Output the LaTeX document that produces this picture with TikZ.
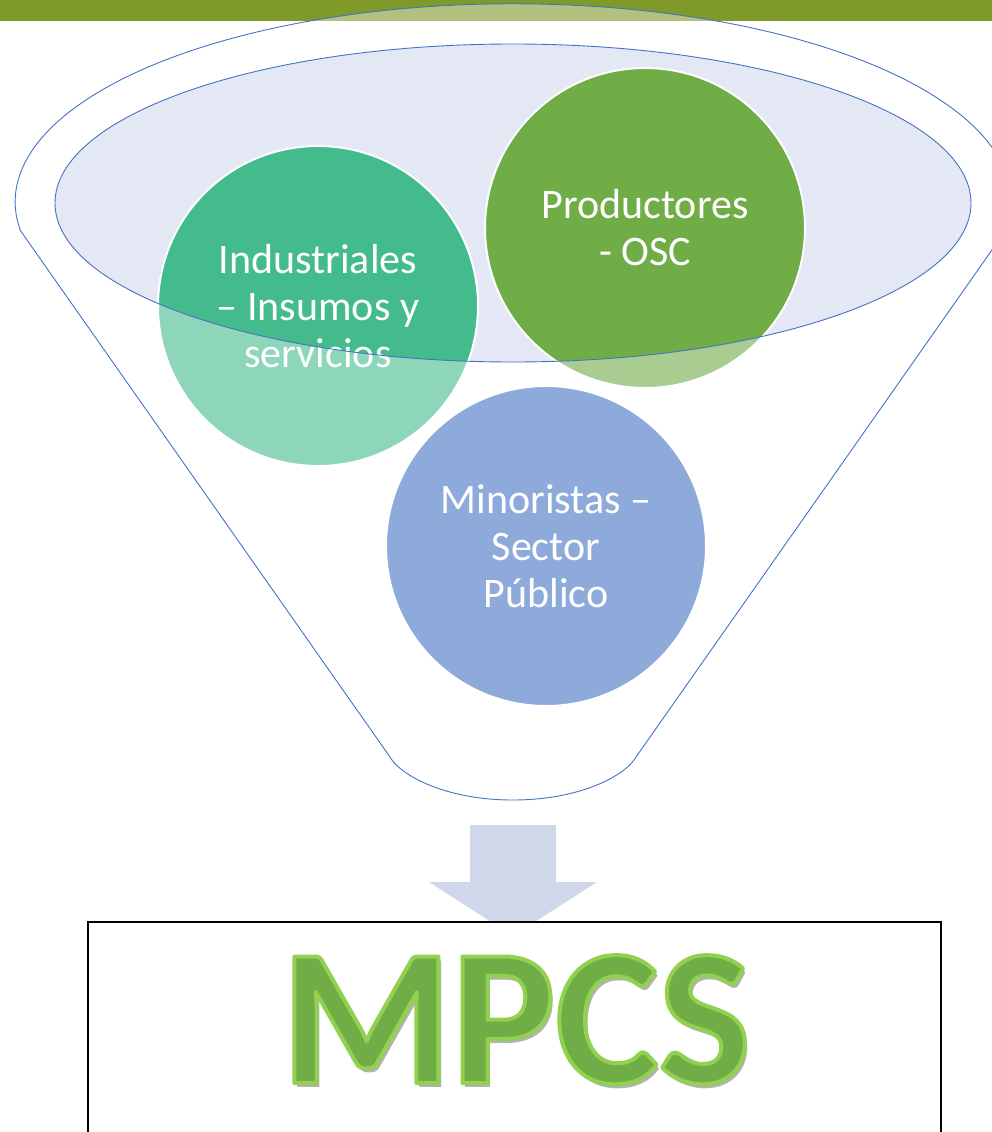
\documentclass[tikz,border=0pt]{standalone}
\usepackage{fontspec}
\setmainfont{Carlito}
\usetikzlibrary{positioning}
\definecolor{bargreen}{RGB}{127,154,40}
\definecolor{mouthfill}{RGB}{228,232,244}
\definecolor{funnelblue}{RGB}{68,114,196}
\definecolor{industgreen}{RGB}{68,187,140}
\definecolor{prodgreen}{RGB}{112,173,71}
\definecolor{minorblue}{RGB}{68,114,196}
\definecolor{arrowfill}{RGB}{208,215,235}
\definecolor{mpcsfill}{RGB}{112,173,71}
% funnel outline and mouth
\newcommand{\funnelrim}{(20,230) -- (390,757) .. controls (400,775) and (445,800) .. (513,800) .. controls (581,800) and (626,775) .. (636,757) -- (1006,230) arc[start angle=-8.2, end angle=188.2, x radius=498pt, y radius=198pt] -- cycle}
\newcommand{\funnelmouth}{(513,203) ellipse [x radius=458pt, y radius=159pt]}
% outlined letters
\newcommand{\mpcsoutline}[1]{\special{pdf:code 2 Tr 4 w 1 j 0.573 0.816 0.314 RG}#1\special{pdf:code 0 Tr}}

\begin{document}
\begin{tikzpicture}[x=1pt, y=-1pt,
    stage/.style={circle, draw=white, line width=2pt, minimum size=320pt, inner sep=0pt, align=center, text=white, font=\fontsize{42}{47}\selectfont},
    bigword/.style={anchor=base, inner sep=0pt, font=\bfseries\fontsize{195}{195}\selectfont}]
    \useasboundingbox (0,0) rectangle (992,1132);
    \clip (0,0) rectangle (992,1132);

    % Top bar
    \fill[bargreen] (0,0) rectangle (992,21);

    % Funnel mouth
    \fill[mouthfill] \funnelmouth;

    % Stages
    \node[stage, fill=industgreen] (industriales) at (318,306) {Industriales\\– Insumos y\\servicios};
    \node[stage, fill=prodgreen] (productores) at (645,228) {Productores\\- OSC};
    \node[stage, fill=minorblue] (minoristas) at (546,546) {Minoristas –\\Sector\\Público};

    % Funnel body
    \fill[white, fill opacity=0.4, even odd rule] \funnelrim \funnelmouth;
    \draw[funnelblue, line width=0.9pt] \funnelrim;
    \draw[funnelblue, line width=0.9pt] \funnelmouth;

    % Arrow
    \fill[arrowfill] (470,825) -- (556,825) -- (556,882) -- (597,882) -- (513,936) -- (429,882) -- (470,882) -- cycle;

    % Result
    \node[draw=black, line width=2pt, fill=white, minimum width=853pt, minimum height=240pt, anchor=north west] (outcome) at (87,921) {};
    \node[bigword, text=black, text opacity=0.3] (mpcsshadow) at (519,1087) {MPCS};
    \node[bigword, text=mpcsfill] (mpcs) at (516,1083) {\mpcsoutline{MPCS}};
\end{tikzpicture}
\end{document}
